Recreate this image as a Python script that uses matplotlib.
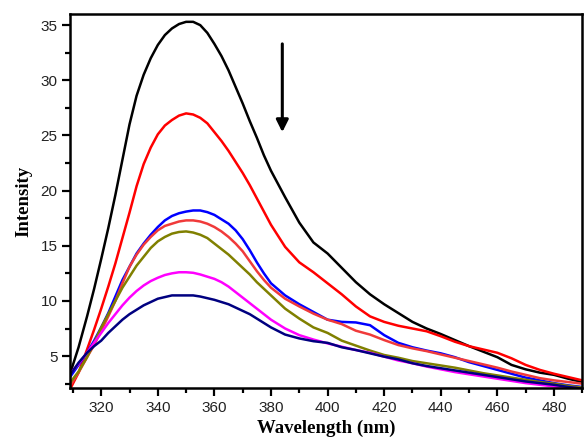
import matplotlib
matplotlib.use("Agg")
import matplotlib.pyplot as plt
from matplotlib.ticker import MultipleLocator

wavelength = [309, 312, 315, 317.5, 320, 322.5, 325, 327.5, 330, 332.5, 335, 337.5,
              340, 342.5, 345, 347.5, 350, 352.5, 355, 357.5, 360, 362.5, 365, 367.5,
              370, 372.5, 375, 377.5, 380, 385, 390, 395, 400, 405, 410, 415, 420,
              425, 430, 435, 440, 445, 450, 455, 460, 465, 470, 475, 480, 485, 490]

black = [3.4, 5.8, 8.6, 11.1, 13.8, 16.6, 19.6, 22.8, 26.0, 28.6, 30.5, 32.0,
         33.2, 34.1, 34.7, 35.1, 35.3, 35.3, 35.0, 34.3, 33.3, 32.2, 30.9, 29.4,
         27.9, 26.3, 24.8, 23.2, 21.8, 19.4, 17.1, 15.3, 14.3, 13.0, 11.7, 10.6, 9.7,
         8.9, 8.1, 7.5, 7.0, 6.45, 5.9, 5.4, 4.9, 4.2, 3.8, 3.5, 3.3, 2.95, 2.65]
red_top = [2.0, 3.5, 5.6, 7.4, 9.3, 11.3, 13.4, 15.7, 18.0, 20.4, 22.4, 23.9,
           25.1, 25.9, 26.4, 26.8, 27.0, 26.9, 26.6, 26.1, 25.3, 24.5, 23.6, 22.6,
           21.6, 20.5, 19.3, 18.1, 16.9, 14.9, 13.5, 12.6, 11.6, 10.6, 9.5, 8.6, 8.1,
           7.75, 7.5, 7.25, 6.8, 6.3, 5.9, 5.6, 5.3, 4.8, 4.2, 3.75, 3.4, 3.1, 2.8]
blue = [3.1, 4.2, 5.3, 6.4, 7.6, 8.9, 10.4, 11.9, 13.1, 14.3, 15.2, 16.0,
        16.7, 17.3, 17.7, 17.95, 18.1, 18.2, 18.2, 18.05, 17.8, 17.4, 17.0, 16.4,
        15.6, 14.6, 13.5, 12.5, 11.6, 10.5, 9.7, 9.0, 8.3, 8.1, 8.05, 7.8, 6.9,
        6.2, 5.8, 5.5, 5.25, 4.9, 4.45, 4.1, 3.75, 3.4, 3.05, 2.8, 2.55, 2.35, 2.2]
red_low = [2.3, 3.5, 4.9, 6.0, 7.3, 8.6, 10.0, 11.6, 13.1, 14.2, 15.1, 15.8,
           16.4, 16.8, 17.0, 17.2, 17.3, 17.3, 17.2, 17.0, 16.7, 16.3, 15.8, 15.2,
           14.5, 13.6, 12.7, 11.9, 11.2, 10.2, 9.5, 8.85, 8.3, 7.9, 7.3, 6.95, 6.45,
           6.0, 5.7, 5.45, 5.15, 4.85, 4.55, 4.25, 3.95, 3.6, 3.3, 3.0, 2.8, 2.65, 2.5]
olive = [2.6, 3.6, 4.9, 6.2, 7.6, 8.8, 10.0, 11.2, 12.2, 13.2, 14.0, 14.8,
         15.4, 15.8, 16.1, 16.25, 16.3, 16.2, 16.0, 15.7, 15.2, 14.7, 14.2, 13.6,
         13.0, 12.4, 11.7, 11.1, 10.5, 9.3, 8.4, 7.6, 7.1, 6.4, 5.95, 5.5, 5.1,
         4.85, 4.55, 4.35, 4.15, 3.95, 3.7, 3.45, 3.25, 3.05, 2.85, 2.65, 2.5, 2.3, 2.15]
magenta = [3.4, 4.3, 5.3, 6.2, 7.1, 8.0, 8.8, 9.6, 10.3, 10.9, 11.4, 11.8,
           12.1, 12.35, 12.5, 12.6, 12.6, 12.55, 12.4, 12.2, 12.0, 11.7, 11.3, 10.8,
           10.3, 9.8, 9.3, 8.8, 8.3, 7.5, 6.9, 6.5, 6.15, 5.85, 5.55, 5.3, 4.95,
           4.6, 4.35, 4.05, 3.8, 3.55, 3.35, 3.15, 2.95, 2.75, 2.55, 2.4, 2.25, 2.15, 2.05]
navy = [3.3, 4.4, 5.3, 5.9, 6.4, 7.1, 7.7, 8.3, 8.8, 9.2, 9.6, 9.9,
        10.2, 10.35, 10.5, 10.5, 10.5, 10.5, 10.4, 10.25, 10.1, 9.9, 9.7, 9.4,
        9.1, 8.8, 8.4, 8.0, 7.6, 6.95, 6.6, 6.35, 6.2, 5.8, 5.55, 5.25, 4.95,
        4.7, 4.35, 4.1, 3.9, 3.7, 3.5, 3.3, 3.1, 2.9, 2.7, 2.55, 2.4, 2.2, 2.05]

series = [
    (black, "#000000"),
    (red_top, "#ff0000"),
    (blue, "#0000ff"),
    (red_low, "#f03a3a"),
    (olive, "#808000"),
    (magenta, "#ff00ff"),
    (navy, "#000080"),
]

fig = plt.figure(figsize=(5.84, 4.41), dpi=100)
ax = fig.add_axes([0.12, 0.12, 0.877, 0.848])

for vals, col in series:
    ax.plot(wavelength, vals, color=col, lw=1.8, solid_capstyle="round",
            solid_joinstyle="round")

ax.set_xlim(309, 490)
ax.set_ylim(2.1, 36)
ax.xaxis.set_major_locator(MultipleLocator(20))
ax.xaxis.set_minor_locator(MultipleLocator(10))
ax.yaxis.set_major_locator(MultipleLocator(5))
ax.yaxis.set_minor_locator(MultipleLocator(2.5))
ax.set_xticks(range(320, 481, 20))
ax.tick_params(which="major", direction="out", length=6, width=1.6,
               labelsize=11, pad=3)
ax.tick_params(which="minor", direction="out", length=3.5, width=1.6)
ax.tick_params(top=False, right=False)
for lab in ax.get_xticklabels() + ax.get_yticklabels():
    lab.set_fontfamily("Liberation Sans")
    lab.set_color("#222222")
for sp in ax.spines.values():
    sp.set_linewidth(1.8)

ax.set_xlabel("Wavelength (nm)", fontfamily="Liberation Serif", fontweight="bold",
              fontsize=13.5, labelpad=4)
ax.set_ylabel("Intensity", fontfamily="Liberation Serif", fontweight="bold",
              fontsize=13.5, labelpad=6)

ax.annotate("", xy=(384, 25.3), xytext=(384, 33.3),
            arrowprops=dict(arrowstyle="-|>", lw=2.2, color="black",
                            mutation_scale=18, shrinkA=0, shrinkB=0))

fig.savefig("out.png", dpi=100)
